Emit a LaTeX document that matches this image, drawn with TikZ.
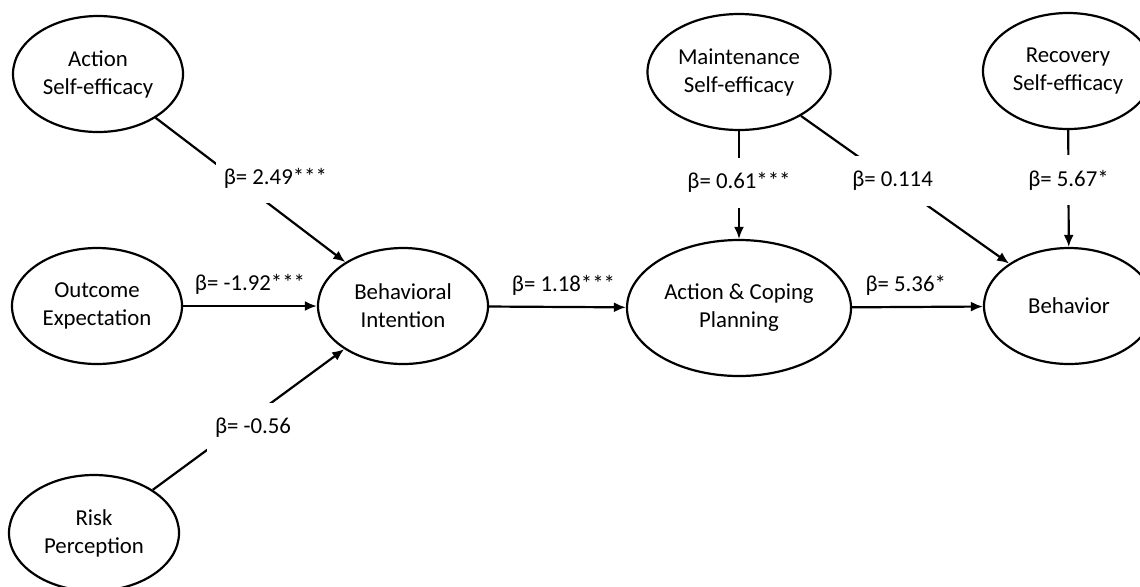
\documentclass[tikz,border=0pt]{standalone}
\usepackage{fontspec}
\setmainfont{Carlito}
\usetikzlibrary{shapes.geometric, arrows.meta}
\begin{document}
\begin{tikzpicture}[x=0.5pt, y=-0.5pt,
    font=\fontsize{11.4}{14}\selectfont,
    construct/.style={ellipse, draw, line width=1.1pt, minimum width=85pt,
      minimum height=58pt, inner sep=0pt, align=center},
    link/.style={line width=1.1pt, -{Latex[length=6pt, width=5pt]}},
    coef/.style={fill=white, minimum height=25pt, inner xsep=4pt}]
  \useasboundingbox (0,0) rectangle (1140,586);

  \node[construct] (ase) at (98,74) {Action\\Self-efficacy};
  \node[construct] (oe) at (97,306) {Outcome\\Expectation};
  \node[construct] (rp) at (94,533) {Risk\\Perception};
  \node[construct] (bi) at (403,306) {Behavioral\\Intention};
  \node[construct, minimum width=112pt, minimum height=68pt] (acp) at (739,308) {Action \& Coping\\Planning};
  \node[construct, minimum width=91.5pt] (mse) at (739,72) {Maintenance\\Self-efficacy};
  \node[construct] (rse) at (1068,71) {Recovery\\Self-efficacy};
  \node[construct] (beh) at (1069,306) {Behavior};

  \draw[link] (ase) -- node[coef, pos=0.42, xshift=20pt] {β= 2.49***} (bi);
  \draw[link] (oe) -- node[above=2pt] {β= -1.92***} (bi);
  \draw[link] (rp) -- node[coef, pos=0.44, xshift=8pt] {β= -0.56} (bi);
  \draw[link] (bi) -- node[above=2pt, xshift=3pt] {β= 1.18***} (acp);
  \draw[link] (mse) -- node[coef, pos=0.48] {β= 0.61***} (acp);
  \draw[link] (mse) -- node[coef, pos=0.44] {β= 0.114} (beh);
  \draw[link] (rse) -- node[coef, pos=0.43] {β= 5.67*} (beh);
  \draw[link] (acp) -- node[above=2pt, pos=0.41] {β= 5.36*} (beh);
\end{tikzpicture}
\end{document}
